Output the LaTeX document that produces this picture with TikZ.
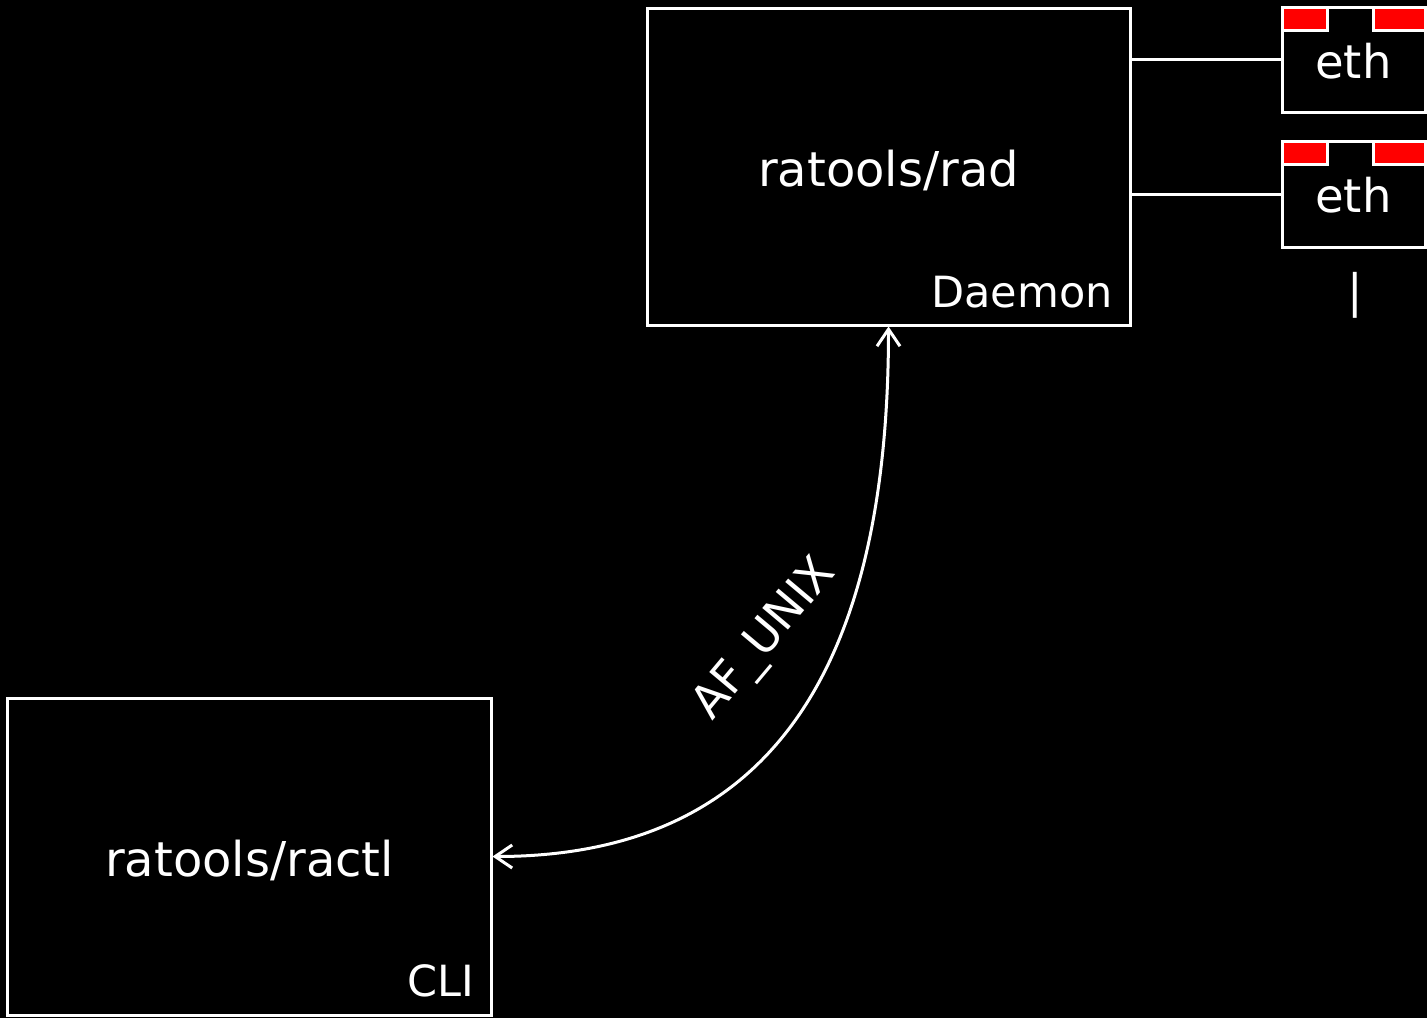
\documentclass[tikz,border=0pt]{standalone}
\usepackage{fontspec}
\setmainfont{DejaVu Sans}
\usetikzlibrary{arrows.meta}
\begin{document}
\begin{tikzpicture}[x=1bp,y=-1bp,
  box/.style={draw=white,line width=3bp,inner sep=0pt,fill=black},
  bigtext/.style={text=white,inner sep=0pt,font=\fontsize{48bp}{54bp}\selectfont},
  smalltext/.style={text=white,inner sep=0pt,font=\fontsize{43bp}{49bp}\selectfont},
  ethtext/.style={text=white,inner sep=0pt,font=\fontsize{46.5bp}{52bp}\selectfont},
  linklabel/.style={text=white,inner sep=0pt,font=\fontsize{46bp}{52bp}\selectfont},
  tab/.style={draw=white,fill=red,line width=3bp},
  wire/.style={draw=white,line width=3bp},
  link/.style={draw=white,line width=3bp,{Straight Barb[length=17bp,width=23bp]}-{Straight Barb[length=17bp,width=23bp]}}]
\fill[black] (0,0) rectangle (1427,1018);
\useasboundingbox (0,0) rectangle (1427,1018);

% daemon box
\node[box,minimum width=483bp,minimum height=317bp] (rad) at (888.5,166.5) {};
\node[bigtext,anchor=base] (radl) at (888.5,186) {ratools/rad};
\node[smalltext,anchor=base east] (dae) at (1113,307) {Daemon};

% cli box
\node[box,minimum width=483bp,minimum height=317bp] (ractl) at (249.5,856.5) {};
\node[bigtext,anchor=base] (ractll) at (249.5,876) {ratools/ractl};
\node[smalltext,anchor=base east] (cli) at (474,996) {CLI};

% eth boxes
\node[box,minimum width=143bp,minimum height=105bp] (eth1) at (1353.5,59.5) {};
\fill[tab] (1282,7) rectangle (1327,30);
\fill[tab] (1373,7) rectangle (1425,30);
\draw[white,line width=3bp] (1282,7) rectangle (1425,112);
\node[ethtext,anchor=base] (eth1l) at (1353.5,78) {eth};

\node[box,minimum width=143bp,minimum height=106bp] (eth2) at (1353.5,194) {};
\fill[tab] (1282,141) rectangle (1327,164);
\fill[tab] (1373,141) rectangle (1425,164);
\draw[white,line width=3bp] (1282,141) rectangle (1425,247);
\node[ethtext,anchor=base] (eth2l) at (1353.5,212) {eth};

\node[linklabel,anchor=base] (bar) at (1355,307.5) {|};

% wires
\draw[wire] (rad.east |- eth1.west) -- (eth1.west);
\draw[wire] (rad.east |- eth2.west) -- (eth2.west);

% AF_UNIX link
\draw[link] (ractl.east) .. controls +(267,0) and +(0,357) .. (rad.south);
\node[linklabel,rotate=50] (af) at (766,640) {AF\_UNIX};
\end{tikzpicture}
\end{document}
